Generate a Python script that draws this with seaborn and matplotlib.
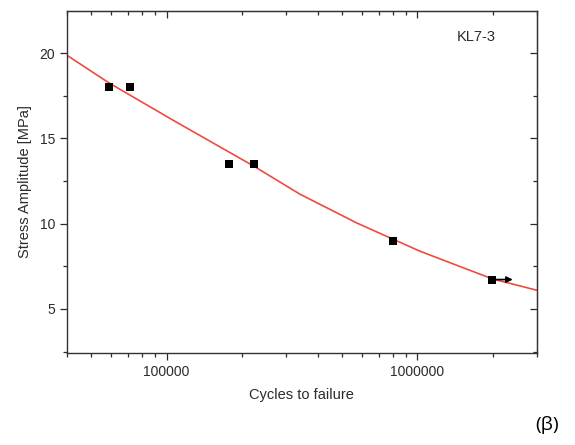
import seaborn as sns
import matplotlib.pyplot as plt
from matplotlib.ticker import FixedLocator, LogLocator, NullFormatter, FuncFormatter

# test points (cycles, MPa)
cycles = [59000, 71700, 177000, 224000, 802000, 1990000]
stress = [18.0, 18.0, 13.5, 13.5, 9.0, 6.72]
runout_end = 2400000  # arrow tip of the run-out specimen

# fitted curve
fit_cycles = [40000, 59000, 106000, 224000, 340000, 573000, 1025000, 1990000, 3000000]
fit_stress = [19.88, 18.25, 16.07, 13.35, 11.73, 10.04, 8.38, 6.76, 6.09]

sns.set_style('ticks')
plt.rcParams['font.family'] = ['Liberation Sans', 'DejaVu Sans']
txt = '#2b2b2b'

fig = plt.figure(figsize=(5.75, 4.45), dpi=100)
ax = fig.add_axes([0.116, 0.207, 0.818, 0.768])

sns.lineplot(x=fit_cycles, y=fit_stress, color='#f0493e', lw=1.2, ax=ax)
sns.scatterplot(x=cycles, y=stress, marker='s', s=36, color='black',
                edgecolor='black', linewidth=0, zorder=3, ax=ax)
ax.annotate('', xy=(runout_end, stress[-1]), xytext=(cycles[-1], stress[-1]),
            arrowprops=dict(arrowstyle='-|>', color='black', lw=1.2,
                            mutation_scale=9, shrinkA=0, shrinkB=0))

ax.set_xscale('log')
ax.set_xlim(40000, 3000000)
ax.set_ylim(2.42, 22.46)
ax.xaxis.set_major_locator(FixedLocator([1e5, 1e6]))
ax.xaxis.set_major_formatter(FuncFormatter(lambda v, p: f'{int(round(v))}'))
ax.xaxis.set_minor_locator(LogLocator(base=10, subs=range(2, 10)))
ax.xaxis.set_minor_formatter(NullFormatter())
ax.yaxis.set_major_locator(FixedLocator([5, 10, 15, 20]))
ax.yaxis.set_minor_locator(FixedLocator([2.5, 7.5, 12.5, 17.5, 22.5]))

ax.tick_params(which='both', direction='out', colors=txt, labelsize=10, width=0.9)
ax.tick_params(which='major', length=5)
ax.tick_params(which='minor', length=3)
for s in ax.spines.values():
    s.set_color('#333333')
    s.set_linewidth(1.0)

# mirrored ticks on top and right, pointing inwards
top = ax.secondary_xaxis('top')
top.xaxis.set_major_locator(FixedLocator([1e5, 1e6]))
top.xaxis.set_minor_locator(LogLocator(base=10, subs=range(2, 10)))
top.xaxis.set_major_formatter(NullFormatter())
top.xaxis.set_minor_formatter(NullFormatter())
top.tick_params(which='both', direction='in', colors=txt, width=0.9)
top.tick_params(which='major', length=5)
top.tick_params(which='minor', length=3)
right = ax.secondary_yaxis('right')
right.yaxis.set_major_locator(FixedLocator([5, 10, 15, 20]))
right.yaxis.set_minor_locator(FixedLocator([2.5, 7.5, 12.5, 17.5, 22.5]))
right.yaxis.set_major_formatter(NullFormatter())
right.tick_params(which='both', direction='in', colors=txt, width=0.9)
right.tick_params(which='major', length=5)
right.tick_params(which='minor', length=3)

ax.set_xlabel('Cycles to failure', fontsize=10.5, color=txt, labelpad=7)
ax.set_ylabel('Stress Amplitude [MPa]', fontsize=10.5, color=txt, labelpad=5)
ax.text(0.87, 0.925, 'KL7-3', transform=ax.transAxes, ha='center', va='center',
        fontsize=10.5, color=txt)
fig.text(0.952, 0.045, '(β)', ha='center', va='center', fontsize=14,
         family=['Open Sans', 'DejaVu Sans'], color='black')

fig.savefig('out.png', dpi=100)
